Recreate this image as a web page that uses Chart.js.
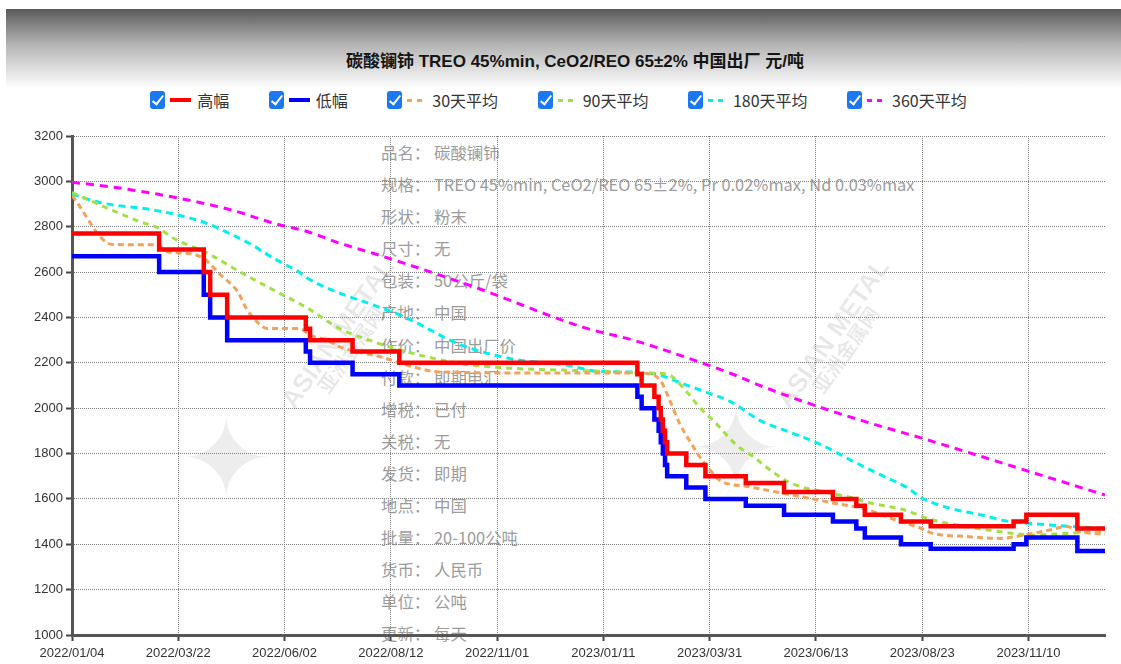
<!DOCTYPE html>
<html>
<head>
<meta charset="utf-8">
<script src="https://cdn.jsdelivr.net/npm/chart.js@4.4.1/dist/chart.umd.min.js"></script>
<style>
html,body{margin:0;padding:0;background:#fff;width:1121px;height:664px;overflow:hidden;font-family:"Liberation Sans","Noto Sans CJK SC",sans-serif;}
#hdr{position:absolute;left:6px;top:9px;width:1115px;height:79px;background:linear-gradient(to bottom,#5a5a5a 0%,#b4b4b4 45%,#ffffff 100%);}
#title{position:absolute;top:47px;left:575px;transform:translateX(-50%);white-space:nowrap;font-weight:bold;font-size:17px;color:#151515;font-family:"Liberation Sans","Noto Sans CJK SC",sans-serif;}
#legend{position:absolute;top:90px;left:-2px;width:1121px;display:flex;justify-content:center;gap:39.5px;}
.item{display:flex;align-items:center;height:20px;font-size:16px;color:#333;font-family:"Noto Sans CJK SC",sans-serif;white-space:nowrap;}
.cb{width:15px;height:18px;border-radius:3px;background:#1b78f2;position:relative;margin-right:5px;flex:none;}
.cb::after{content:"";position:absolute;left:5px;top:2px;width:4px;height:10px;border:solid #fff;border-width:0 2px 2px 0;transform:rotate(38deg);}
.ln{width:21px;height:4px;margin-right:6px;flex:none;}
.ds{width:18px;height:3px;margin-right:7px;flex:none;}
#info{position:absolute;left:381px;top:136px;font-family:"Noto Sans CJK SC",sans-serif;font-size:16.4px;line-height:32.1px;color:#9c9c9c;white-space:nowrap;}
#info .lab{display:inline-block;width:53px;}
.wm{position:absolute;white-space:nowrap;color:rgba(0,0,0,0.09);font-weight:bold;transform-origin:center center;}
#wrap{position:absolute;left:0;top:0;width:1121px;height:664px;z-index:2;}
</style>
</head>
<body>
<div id="hdr"></div>
<div id="title"></div>
<div id="legend"></div>
<div id="info"></div>
<div class="wm" style="left:250px;top:318px;font-size:26px;transform:rotate(-55deg);">ASIAN METAL</div>
<div class="wm" style="left:300px;top:335px;font-size:20px;transform:rotate(-55deg);">亚洲金属网</div>
<div class="wm" style="left:745px;top:318px;font-size:26px;transform:rotate(-55deg);">ASIAN METAL</div>
<div class="wm" style="left:795px;top:335px;font-size:20px;transform:rotate(-55deg);">亚洲金属网</div>
<div class="wm" style="left:180px;top:395px;font-size:110px;color:rgba(0,0,0,0.07);font-weight:normal;">✦</div>
<div class="wm" style="left:690px;top:385px;font-size:110px;color:rgba(0,0,0,0.07);font-weight:normal;">✦</div>
<div id="wrap"><canvas id="c" width="1121" height="664"></canvas></div>
<script>
// ---------- data ----------
const chartTitle = '碳酸镧铈 TREO 45%min, CeO2/REO 65±2% 中国出厂 元/吨';
const seriesNames = ['高幅', '低幅', '30天平均', '90天平均', '180天平均', '360天平均'];

// x positions are trading-day indices; tick labels every 50 trading days
const xTickIdx = [0, 50, 100, 150, 200, 250, 300, 350, 400, 450];
const xTickLabels = ['2022/01/04', '2022/03/22', '2022/06/02', '2022/08/12', '2022/11/01',
                     '2023/01/11', '2023/03/31', '2023/06/13', '2023/08/23', '2023/11/10'];
const xLast = 486;

// 高幅 (step points: value starts at index)
const highX = [0, 41, 62, 65, 73, 110, 112, 132, 154, 266, 268, 274, 276, 277, 278, 279, 280, 289, 298, 317, 335, 358, 369, 373, 390, 404, 443, 449, 473, 486];
const highY = [2770, 2700, 2600, 2500, 2400, 2350, 2300, 2250, 2200, 2150, 2100, 2050, 2000, 1950, 1900, 1850, 1800, 1750, 1700, 1670, 1630, 1600, 1570, 1530, 1500, 1480, 1500, 1530, 1470, 1470];

// 低幅
const lowX = [0, 41, 62, 65, 73, 110, 112, 132, 154, 266, 268, 274, 276, 277, 278, 279, 280, 289, 298, 317, 335, 358, 369, 373, 390, 404, 443, 449, 473, 486];
const lowY = [2670, 2600, 2500, 2400, 2300, 2250, 2200, 2150, 2100, 2050, 2000, 1950, 1900, 1850, 1800, 1750, 1700, 1650, 1600, 1570, 1530, 1500, 1470, 1430, 1400, 1380, 1400, 1430, 1370, 1370];

// 30天平均
const avg30X = [0, 19, 40, 45, 55, 62, 70, 78, 82, 87, 92, 107, 112, 120, 126, 134, 145, 157, 173, 225, 265, 272, 277, 281, 286, 291, 295, 300, 305, 317, 334, 350, 358, 374, 389, 399, 405, 421, 437, 444, 452, 460, 468, 474, 486];
const avg30Y = [2937, 2722, 2720, 2690, 2682, 2660, 2587, 2513, 2440, 2381, 2351, 2351, 2322, 2300, 2270, 2249, 2227, 2191, 2160, 2155, 2155, 2150, 2120, 2040, 1930, 1850, 1790, 1730, 1680, 1656, 1626, 1597, 1582, 1553, 1502, 1472, 1448, 1434, 1426, 1434, 1448, 1463, 1478, 1456, 1444];

// 90天平均
const avg90X = [0, 32, 40, 48, 64, 79, 95, 111, 126, 142, 157, 182, 207, 241, 271, 280, 289, 295, 303, 313, 320, 328, 336, 344, 352, 367, 375, 391, 405, 421, 436, 452, 468, 486];
const avg90Y = [2951, 2822, 2797, 2748, 2682, 2601, 2520, 2440, 2351, 2293, 2250, 2198, 2176, 2165, 2155, 2150, 2075, 2006, 1933, 1834, 1790, 1731, 1680, 1650, 1635, 1605, 1583, 1553, 1507, 1478, 1456, 1441, 1448, 1456];

// 180天平均
const avg180X = [0, 13, 40, 60, 68, 79, 84, 95, 107, 111, 123, 142, 157, 182, 207, 232, 248, 265, 275, 287, 300, 310, 324, 336, 352, 367, 380, 393, 400, 413, 428, 441, 451, 460, 471, 486];
const avg180Y = [2944, 2907, 2871, 2826, 2797, 2748, 2724, 2660, 2599, 2572, 2518, 2454, 2400, 2283, 2217, 2191, 2162, 2159, 2150, 2109, 2065, 2028, 1944, 1900, 1841, 1768, 1708, 1649, 1603, 1559, 1529, 1500, 1492, 1485, 1478, 1470];

// 360天平均
const avg360X = [0, 19, 40, 60, 76, 95, 111, 126, 142, 190, 241, 264, 295, 310, 325, 352, 372, 399, 450, 486];
const avg360Y = [2996, 2975, 2944, 2907, 2871, 2815, 2778, 2727, 2682, 2532, 2355, 2300, 2204, 2153, 2095, 2004, 1944, 1870, 1722, 1617];

// info overlay text
const infoLabels = ['品名：', '规格：', '形状：', '尺寸：', '包装：', '产地：', '作价：', '付款：', '增税：', '关税：', '发货：', '地点：', '批量：', '货币：', '单位：', '更新：'];
const infoValues = ['碳酸镧铈', 'TREO 45%min, CeO2/REO 65±2%, Pr 0.02%max, Nd 0.03%max', '粉末', '无', '50公斤/袋', '中国', '中国出厂价', '即期电汇', '已付', '无', '即期', '中国', '20-100公吨', '人民币', '公吨', '每天'];

// ---------- styles ----------
const colors = ['#ff0000', '#0000ff', '#f4a25a', '#a2e048', '#00f0f0', '#ff00ff'];
const dashes = [[], [], [6, 4], [6, 5], [7, 5], [8, 6]];

function pts(xs, ys) { return xs.map((x, i) => ({ x: x, y: ys[i] })); }

document.getElementById('title').textContent = chartTitle;
const legend = document.getElementById('legend');
seriesNames.forEach((n, i) => {
  const it = document.createElement('div'); it.className = 'item';
  const cb = document.createElement('span'); cb.className = 'cb'; it.appendChild(cb);
  const ln = document.createElement('span');
  if (i < 2) { ln.className = 'ln'; ln.style.background = colors[i]; }
  else { ln.className = 'ds'; ln.style.background = 'repeating-linear-gradient(to right,' + colors[i] + ' 0 5px, transparent 5px 10px)'; }
  it.appendChild(ln);
  const t = document.createElement('span'); t.textContent = n; it.appendChild(t);
  legend.appendChild(it);
});
const info = document.getElementById('info');
infoLabels.forEach((l, i) => {
  const d = document.createElement('div');
  const a = document.createElement('span'); a.className = 'lab'; a.textContent = l;
  const b = document.createElement('span'); b.textContent = infoValues[i];
  d.appendChild(a); d.appendChild(b); info.appendChild(d);
});

const seriesData = [pts(highX, highY), pts(lowX, lowY), pts(avg30X, avg30Y), pts(avg90X, avg90Y), pts(avg180X, avg180Y), pts(avg360X, avg360Y)];

const datasets = seriesData.map((d, i) => ({
  label: seriesNames[i],
  data: d,
  borderColor: colors[i],
  backgroundColor: colors[i],
  borderWidth: i < 2 ? 4.5 : 3,
  borderDash: dashes[i],
  pointRadius: 0,
  fill: false,
  stepped: i < 2 ? 'before' : false,
  cubicInterpolationMode: i < 2 ? 'default' : 'monotone'
}));

new Chart(document.getElementById('c'), {
  type: 'line',
  data: { datasets: datasets },
  options: {
    responsive: false,
    animation: false,
    devicePixelRatio: 1,
    layout: { padding: { top: 136, right: 16, left: 0, bottom: 0 } },
    plugins: { legend: { display: false }, title: { display: false }, tooltip: { enabled: false } },
    scales: {
      x: {
        type: 'linear', min: 0, max: xLast,
        afterFit: s => { s.height = 29; },
        afterBuildTicks: s => { s.ticks = xTickIdx.map(v => ({ value: v })); },
        ticks: {
          autoSkip: false, maxRotation: 0, minRotation: 0, padding: 5,
          color: '#333', font: { family: 'Liberation Sans', size: 13 },
          callback: v => { const k = xTickIdx.indexOf(v); return k >= 0 ? xTickLabels[k] : ''; }
        },
        grid: { color: '#808080', lineWidth: 1, tickLength: 6, tickColor: '#444', tickWidth: 2 },
        border: { display: true, color: '#555', width: 3, dash: [1, 1] }
      },
      y: {
        min: 1000, max: 3200,
        afterFit: s => { s.width = 72; },
        ticks: { stepSize: 200, padding: 3, color: '#333', font: { family: 'Liberation Sans', size: 13 },
                 callback: v => String(v) },
        grid: { color: '#808080', lineWidth: 1, tickLength: 6, tickColor: '#444', tickWidth: 2 },
        border: { display: true, color: '#555', width: 3, dash: [1, 1] }
      }
    }
  }
});
</script>
</body>
</html>
